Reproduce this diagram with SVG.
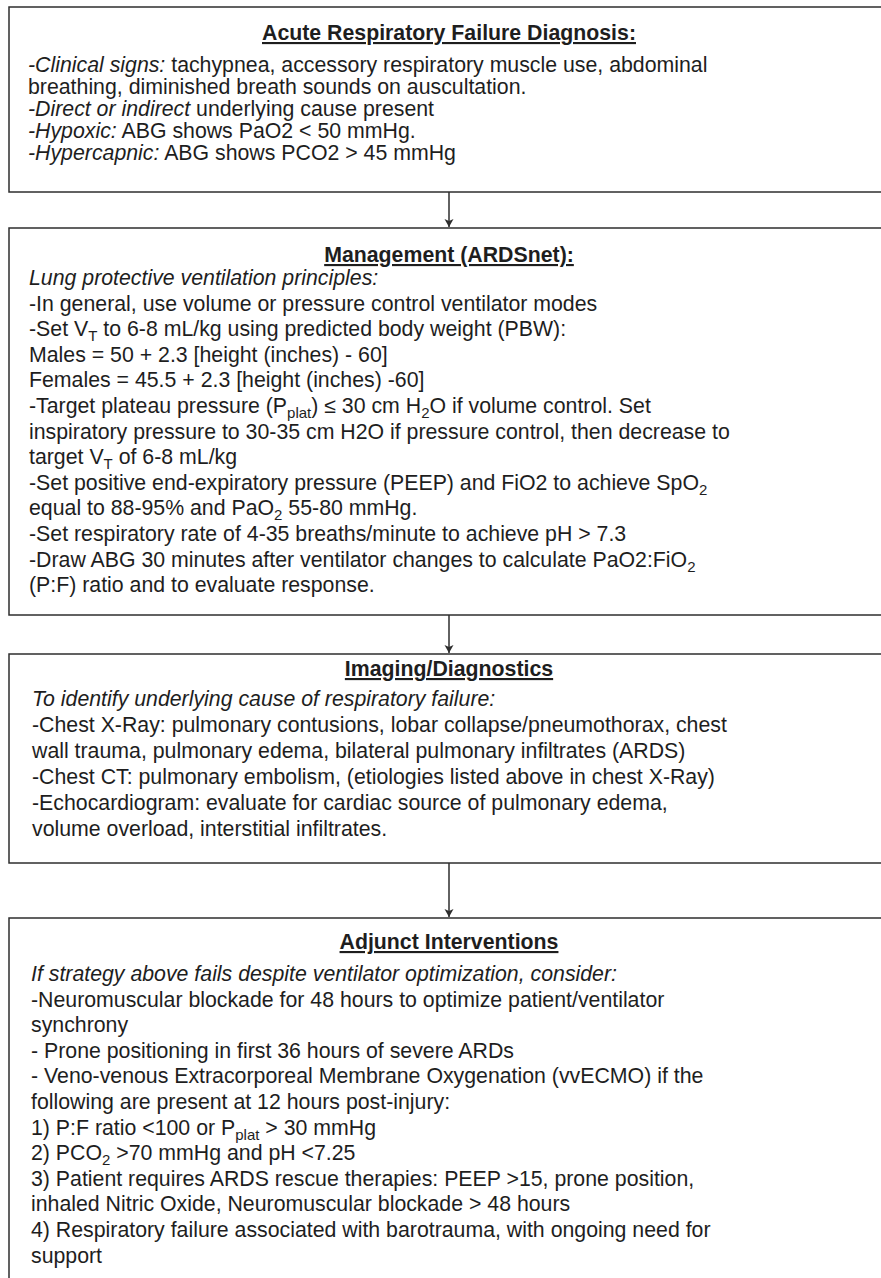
<svg xmlns="http://www.w3.org/2000/svg" width="881" height="1278" viewBox="0 0 881 1278">
  <style>
    .box { fill: #ffffff; stroke: #2e2e2e; stroke-width: 1.5; }
    .link { stroke: #2e2e2e; stroke-width: 1.5; fill: none; }
    text { font-family: "Liberation Sans", Arial, sans-serif; font-size: 21.3px; fill: #1e1e1e; }
    .title { font-weight: bold; text-anchor: middle; text-decoration: underline; }
    .it { font-style: italic; }
    .sub { font-size: 15px; }
  </style>
  <defs>
    <marker id="arrow" viewBox="0 0 8 12" refX="8" refY="6" markerWidth="8" markerHeight="12" markerUnits="userSpaceOnUse" orient="auto">
      <path d="M0,1.5 L8,6 L0,10.5 L2,6 Z" fill="#2e2e2e"/>
    </marker>
  </defs>

  <rect width="881" height="1278" fill="#ffffff"/>

  <!-- connectors between the stages -->
  <g id="connectors">
    <line class="link" x1="449" y1="192" x2="449" y2="227" marker-end="url(#arrow)"/>
    <line class="link" x1="449" y1="615" x2="449" y2="653" marker-end="url(#arrow)"/>
    <line class="link" x1="449" y1="863" x2="449" y2="917" marker-end="url(#arrow)"/>
  </g>

  <!-- stage 1 -->
  <g id="diagnosis">
    <rect class="box" x="9" y="7" width="880" height="185"/>
    <text class="title" x="449" y="40">Acute Respiratory Failure Diagnosis:</text>
    <text x="28" y="72"><tspan class="it">-Clinical signs:</tspan> tachypnea, accessory respiratory muscle use, abdominal</text>
    <text x="28" y="94">breathing, diminished breath sounds on auscultation.</text>
    <text x="28" y="116"><tspan class="it">-Direct or indirect</tspan> underlying cause present</text>
    <text x="28" y="138"><tspan class="it">-Hypoxic:</tspan> ABG shows PaO2 &lt; 50 mmHg.</text>
    <text x="28" y="160"><tspan class="it">-Hypercapnic:</tspan> ABG shows PCO2 &gt; 45 mmHg</text>
  </g>

  <!-- stage 2 -->
  <g id="management">
    <rect class="box" x="9" y="228" width="880" height="387"/>
    <text class="title" x="449" y="262">Management (ARDSnet):</text>
    <text x="29" y="285" class="it">Lung protective ventilation principles:</text>
    <text x="29" y="310.6">-In general, use volume or pressure control ventilator modes</text>
    <text x="29" y="336.2">-Set V<tspan class="sub" dy="5">T</tspan><tspan dy="-5"> to 6-8 mL/kg using predicted body weight (PBW):</tspan></text>
    <text x="29" y="361.8">Males = 50 + 2.3 [height (inches) - 60]</text>
    <text x="29" y="387.4">Females = 45.5 + 2.3 [height (inches) -60]</text>
    <text x="29" y="413">-Target plateau pressure (P<tspan class="sub" dy="5">plat</tspan><tspan dy="-5">) ≤ 30 cm H</tspan><tspan class="sub" dy="5">2</tspan><tspan dy="-5">O if volume control. Set</tspan></text>
    <text x="29" y="438.6">inspiratory pressure to 30-35 cm H2O if pressure control, then decrease to</text>
    <text x="29" y="464.2">target V<tspan class="sub" dy="5">T</tspan><tspan dy="-5"> of 6-8 mL/kg</tspan></text>
    <text x="29" y="489.8">-Set positive end-expiratory pressure (PEEP) and FiO2 to achieve SpO<tspan class="sub" dy="5">2</tspan></text>
    <text x="29" y="515.4">equal to 88-95% and PaO<tspan class="sub" dy="5">2</tspan><tspan dy="-5"> 55-80 mmHg.</tspan></text>
    <text x="29" y="541">-Set respiratory rate of 4-35 breaths/minute to achieve pH &gt; 7.3</text>
    <text x="29" y="566.6">-Draw ABG 30 minutes after ventilator changes to calculate PaO2:FiO<tspan class="sub" dy="5">2</tspan></text>
    <text x="29" y="592.2">(P:F) ratio and to evaluate response.</text>
  </g>

  <!-- stage 3 -->
  <g id="imaging">
    <rect class="box" x="9" y="654" width="880" height="209"/>
    <text class="title" x="449" y="676">Imaging/Diagnostics</text>
    <text x="32" y="705.5" class="it">To identify underlying cause of respiratory failure:</text>
    <text x="32" y="731.5">-Chest X-Ray: pulmonary contusions, lobar collapse/pneumothorax, chest</text>
    <text x="32" y="757.5">wall trauma, pulmonary edema, bilateral pulmonary infiltrates (ARDS)</text>
    <text x="32" y="783.5">-Chest CT: pulmonary embolism, (etiologies listed above in chest X-Ray)</text>
    <text x="32" y="809.5">-Echocardiogram: evaluate for cardiac source of pulmonary edema,</text>
    <text x="32" y="835.5">volume overload, interstitial infiltrates.</text>
  </g>

  <!-- stage 4 -->
  <g id="adjunct">
    <rect class="box" x="9" y="918" width="880" height="400"/>
    <text class="title" x="449" y="949">Adjunct Interventions</text>
    <text x="31" y="981" class="it">If strategy above fails despite ventilator optimization, consider:</text>
    <text x="31" y="1006.6">-Neuromuscular blockade for 48 hours to optimize patient/ventilator</text>
    <text x="31" y="1032.2">synchrony</text>
    <text x="31" y="1057.8">- Prone positioning in first 36 hours of severe ARDs</text>
    <text x="31" y="1083.4">- Veno-venous Extracorporeal Membrane Oxygenation (vvECMO) if the</text>
    <text x="31" y="1109">following are present at 12 hours post-injury:</text>
    <text x="31" y="1134.6">1) P:F ratio &lt;100 or P<tspan class="sub" dy="5">plat</tspan><tspan dy="-5"> &gt; 30 mmHg</tspan></text>
    <text x="31" y="1160.2">2) PCO<tspan class="sub" dy="5">2</tspan><tspan dy="-5"> &gt;70 mmHg and pH &lt;7.25</tspan></text>
    <text x="31" y="1185.8">3) Patient requires ARDS rescue therapies: PEEP &gt;15, prone position,</text>
    <text x="31" y="1211.4">inhaled Nitric Oxide, Neuromuscular blockade &gt; 48 hours</text>
    <text x="31" y="1237">4) Respiratory failure associated with barotrauma, with ongoing need for</text>
    <text x="31" y="1262.6">support</text>
  </g>
</svg>
